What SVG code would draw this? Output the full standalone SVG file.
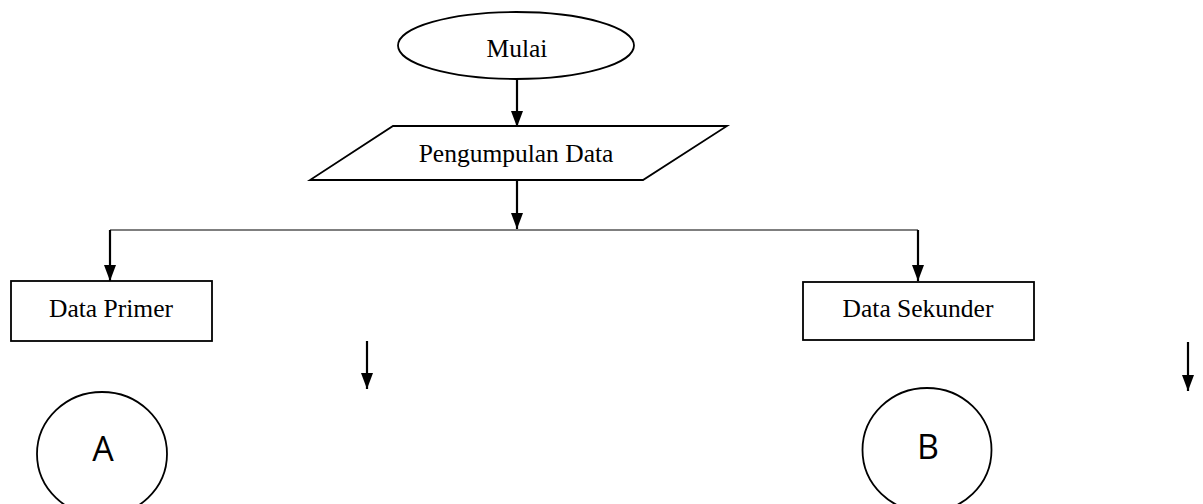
<svg xmlns="http://www.w3.org/2000/svg" width="1203" height="504" viewBox="0 0 1203 504">
<defs>
<marker id="ah" viewBox="0 0 16 12" refX="16" refY="6" markerWidth="16" markerHeight="12" markerUnits="userSpaceOnUse" orient="auto">
<path d="M0,0 L16,6 L0,12 Z" fill="#000"/>
</marker>
</defs>
<style>
.shape{fill:#fff;stroke:#000;stroke-width:1.8}
.lbl{font-family:"Liberation Serif","Times New Roman",serif;font-size:25.5px;fill:#000;text-anchor:middle}
.big{font-family:"Open Sans","Liberation Sans",sans-serif;font-size:34px;fill:#000;text-anchor:middle}
.arr{stroke:#000;stroke-width:2.2;fill:none;marker-end:url(#ah)}
.ln{stroke:#000;stroke-width:1.2;fill:none}
</style>
<rect width="1203" height="504" fill="#fff"/>
<g id="connectors">
<line class="arr" x1="517" y1="79" x2="517" y2="127"/>
<line class="arr" x1="517" y1="180" x2="517" y2="229"/>
<line class="ln" x1="110" y1="230" x2="918" y2="230"/>
<line class="arr" x1="110" y1="230" x2="110" y2="281"/>
<line class="arr" x1="918" y1="230" x2="918" y2="281"/>
<line class="arr" x1="367" y1="341" x2="367" y2="389"/>
<line class="arr" x1="1188" y1="342" x2="1188" y2="391"/>
</g>
<g id="mulai">
<ellipse class="shape" cx="516" cy="45.5" rx="118" ry="33.5"/>
<text class="lbl" x="517" y="57">Mulai</text>
</g>
<g id="pengumpulan">
<polygon class="shape" points="393,126 727,126 643,180 310,180"/>
<text class="lbl" x="516" y="162">Pengumpulan Data</text>
</g>
<g id="primer">
<rect class="shape" x="11" y="281" width="201" height="60"/>
<text class="lbl" x="111" y="317">Data Primer</text>
</g>
<g id="sekunder">
<rect class="shape" x="803" y="282" width="231" height="58"/>
<text class="lbl" x="918" y="317">Data Sekunder</text>
</g>
<g id="A">
<ellipse class="shape" cx="102" cy="454" rx="65" ry="62"/>
<text class="big" x="103" y="461">A</text>
</g>
<g id="B">
<ellipse class="shape" cx="927" cy="450" rx="64.5" ry="62"/>
<text class="big" x="928" y="459">B</text>
</g>
</svg>
